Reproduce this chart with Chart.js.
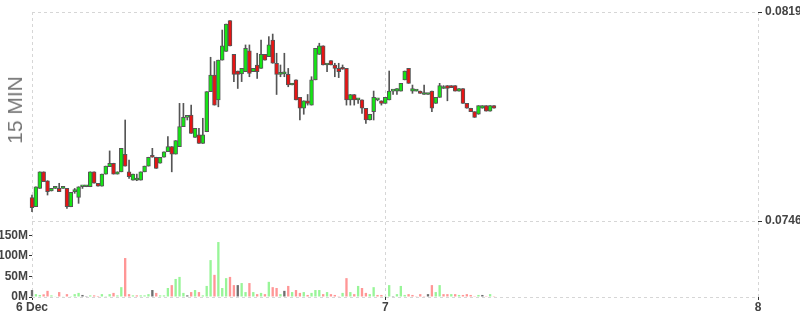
<!DOCTYPE html>
<html>
<head>
<meta charset="utf-8">
<script src="https://cdn.jsdelivr.net/npm/chart.js@4.4.0/dist/chart.umd.min.js"></script>
<style>
  html, body { margin: 0; padding: 0; background: #fff; }
  #wrap { position: relative; width: 800px; height: 315px; }
  #side-title {
    position: absolute; left: 15px; top: 110px;
    transform: translate(-50%, -50%) rotate(-90deg);
    font: 21px 'Liberation Sans', Arial, sans-serif; color: #777; white-space: nowrap;
  }
</style>
</head>
<body>
<div id="wrap">
  <canvas id="chart" width="800" height="315"></canvas>
  <div id="side-title">15 MIN</div>
</div>
<script>
// 15 minute candles, hours counted from 6 Dec 00:00
const startHour = 1.25;
const stepHour = 0.25;

const opens = [
  0.07542, 0.07510, 0.07574, 0.07632, 0.07601, 0.07565, 0.07574, 0.07574, 0.07574, 0.07574,
  0.07510, 0.07563, 0.07543, 0.07580, 0.07580, 0.07580, 0.07632, 0.07592, 0.07582, 0.07624,
  0.07650, 0.07662, 0.07624, 0.07632, 0.07693, 0.07632, 0.07603, 0.07603, 0.07603, 0.07632,
  0.07652, 0.07690, 0.07683, 0.07662, 0.07683, 0.07702, 0.07720, 0.07694, 0.07720, 0.07790,
  0.07822, 0.07830, 0.07752, 0.07761, 0.07731, 0.07772, 0.07912, 0.07970, 0.07883, 0.08022,
  0.08052, 0.08160, 0.08042, 0.07984, 0.07974, 0.07982, 0.08054, 0.07982, 0.08005, 0.07993,
  0.08042, 0.08034, 0.08092, 0.08011, 0.07972, 0.07974, 0.07972, 0.07935, 0.07953, 0.07892,
  0.07854, 0.07880, 0.07865, 0.07953, 0.08042, 0.08072, 0.08005, 0.08020, 0.08005, 0.07993,
  0.07993, 0.07993, 0.07883, 0.07902, 0.07883, 0.07883, 0.07854, 0.07813, 0.07842, 0.07883,
  0.07880, 0.07871, 0.07883, 0.07914, 0.07914, 0.07914, 0.07953, 0.07993, 0.07914, 0.07914,
  0.07914, 0.07902, 0.07902, 0.07914, 0.07871, 0.07892, 0.07923, 0.07933, 0.07933, 0.07933,
  0.07914, 0.07923, 0.07871, 0.07854, 0.07842, 0.07833, 0.07854, 0.07863, 0.07844, 0.07863
];
const highs = [
  0.07551, 0.07580, 0.07632, 0.07632, 0.07601, 0.07574, 0.07580, 0.07592, 0.07574, 0.07574,
  0.07560, 0.07574, 0.07580, 0.07580, 0.07580, 0.07632, 0.07632, 0.07592, 0.07624, 0.07652,
  0.07705, 0.07662, 0.07632, 0.07714, 0.07813, 0.07673, 0.07624, 0.07624, 0.07632, 0.07652,
  0.07683, 0.07714, 0.07683, 0.07683, 0.07702, 0.07755, 0.07720, 0.07741, 0.07871, 0.07871,
  0.07822, 0.07865, 0.07784, 0.07784, 0.07819, 0.07912, 0.08032, 0.08017, 0.08022, 0.08127,
  0.08148, 0.08160, 0.08042, 0.07984, 0.07993, 0.08075, 0.08075, 0.07993, 0.08046, 0.08092,
  0.08042, 0.08104, 0.08113, 0.08046, 0.08005, 0.08046, 0.07993, 0.07941, 0.07953, 0.07892,
  0.07880, 0.07902, 0.07964, 0.08063, 0.08081, 0.08072, 0.08008, 0.08020, 0.08011, 0.08011,
  0.08005, 0.07993, 0.07902, 0.07902, 0.07886, 0.07883, 0.07854, 0.07833, 0.07914, 0.07883,
  0.07880, 0.07892, 0.07984, 0.07914, 0.07923, 0.07941, 0.07984, 0.07993, 0.07935, 0.07914,
  0.07914, 0.07935, 0.07902, 0.07914, 0.07892, 0.07941, 0.07933, 0.07933, 0.07933, 0.07933,
  0.07923, 0.07923, 0.07871, 0.07854, 0.07842, 0.07863, 0.07863, 0.07863, 0.07863, 0.07863
];
const lows = [
  0.07493, 0.07510, 0.07574, 0.07598, 0.07551, 0.07565, 0.07574, 0.07563, 0.07574, 0.07504,
  0.07510, 0.07557, 0.07522, 0.07574, 0.07580, 0.07580, 0.07592, 0.07582, 0.07582, 0.07624,
  0.07650, 0.07624, 0.07624, 0.07632, 0.07652, 0.07609, 0.07603, 0.07601, 0.07603, 0.07632,
  0.07652, 0.07683, 0.07644, 0.07662, 0.07683, 0.07702, 0.07632, 0.07694, 0.07720, 0.07790,
  0.07813, 0.07766, 0.07752, 0.07731, 0.07731, 0.07772, 0.07912, 0.07865, 0.07859, 0.08022,
  0.08052, 0.08072, 0.07947, 0.07923, 0.07947, 0.07982, 0.07964, 0.07982, 0.07958, 0.07993,
  0.08022, 0.08034, 0.08011, 0.07902, 0.07964, 0.07964, 0.07929, 0.07935, 0.07883, 0.07813,
  0.07833, 0.07865, 0.07865, 0.07953, 0.08042, 0.08005, 0.07982, 0.08005, 0.07964, 0.07961,
  0.07990, 0.07865, 0.07865, 0.07865, 0.07871, 0.07836, 0.07801, 0.07813, 0.07813, 0.07880,
  0.07865, 0.07871, 0.07883, 0.07902, 0.07902, 0.07914, 0.07953, 0.07941, 0.07906, 0.07914,
  0.07906, 0.07902, 0.07902, 0.07842, 0.07871, 0.07892, 0.07923, 0.07880, 0.07926, 0.07914,
  0.07914, 0.07871, 0.07854, 0.07842, 0.07822, 0.07833, 0.07854, 0.07844, 0.07844, 0.07854
];
const closes = [
  0.07507, 0.07580, 0.07632, 0.07598, 0.07563, 0.07574, 0.07580, 0.07563, 0.07574, 0.07510,
  0.07560, 0.07563, 0.07580, 0.07580, 0.07580, 0.07632, 0.07592, 0.07582, 0.07624, 0.07652,
  0.07662, 0.07624, 0.07632, 0.07714, 0.07652, 0.07615, 0.07624, 0.07603, 0.07632, 0.07652,
  0.07683, 0.07683, 0.07644, 0.07683, 0.07702, 0.07720, 0.07694, 0.07741, 0.07790, 0.07822,
  0.07822, 0.07766, 0.07784, 0.07731, 0.07761, 0.07912, 0.07970, 0.07865, 0.08022, 0.08072,
  0.08148, 0.08072, 0.07972, 0.07972, 0.07993, 0.08063, 0.07976, 0.07993, 0.07982, 0.08042,
  0.08022, 0.08075, 0.08011, 0.07972, 0.07974, 0.07974, 0.07935, 0.07941, 0.07883, 0.07854,
  0.07880, 0.07871, 0.07953, 0.08063, 0.08072, 0.08005, 0.08008, 0.08005, 0.07993, 0.07982,
  0.07990, 0.07883, 0.07902, 0.07883, 0.07886, 0.07854, 0.07813, 0.07833, 0.07892, 0.07883,
  0.07871, 0.07892, 0.07914, 0.07914, 0.07923, 0.07941, 0.07984, 0.07941, 0.07923, 0.07914,
  0.07906, 0.07902, 0.07902, 0.07854, 0.07892, 0.07933, 0.07929, 0.07923, 0.07926, 0.07914,
  0.07923, 0.07871, 0.07854, 0.07842, 0.07822, 0.07863, 0.07863, 0.07844, 0.07863, 0.07854
];
// volume in millions
const volumes = [
  17, 7, 5, 6.5, 15, 4, 1.6, 12, 1.6, 7,
  2, 7, 10, 5, 2, 4, 4, 2.5, 7, 2,
  7, 10, 4, 24, 95, 7, 4, 4, 4, 4,
  7, 17, 10, 4, 4, 22, 29, 44, 49, 10,
  4, 12, 17, 12, 4, 27, 90, 54, 134, 22,
  46, 49, 29, 29, 34, 12, 34, 12, 7, 10,
  7, 37, 24, 22, 7, 15, 27, 12, 17, 10,
  12, 5, 10, 17, 17, 7, 12, 7, 5, 2,
  10, 46, 12, 7, 27, 22, 10, 7, 24, 5,
  5, 2, 29, 2, 7, 27, 5, 7, 5, 2,
  7, 2, 7, 29, 12, 29, 7, 7, 7, 7,
  5, 5, 7, 5, 2, 5, 5, 2, 7, 2
];

const xTickValues = [startHour, 24, 48];
const xTickLabels = ['6 Dec', '7', '8'];
const priceTicks = [0.0746, 0.0819];
const priceMin = 0.07195;
const priceMax = 0.0819;
const volTicks = [0, 50, 100, 150];
const volMax = 695;

const times = opens.map((_, i) => startHour + i * stepHour);

const UP = '#14e614';
const DOWN = '#e81414';
const EDGE = '#555';
const VOL_UP = '#98f598';
const VOL_DOWN = '#ff9696';
const VOL_FLAT = '#6e6e6e';
const GRID = '#d6d6d6';
const TEXT = '#444';

Chart.defaults.font.family = "'Liberation Sans', Arial, sans-serif";
const tickFont = { size: 12, weight: 'bold' };

function volColor(i) {
  if (i === 0 || closes[i] === closes[i - 1]) return VOL_FLAT;
  return closes[i] > closes[i - 1] ? VOL_UP : VOL_DOWN;
}

new Chart(document.getElementById('chart').getContext('2d'), {
  type: 'bar',
  data: {
    datasets: [
      {
        label: 'wick',
        data: times.map((t, i) => ({ x: t, y: [lows[i], highs[i]] })),
        yAxisID: 'y',
        backgroundColor: EDGE,
        barThickness: 1,
        minBarLength: 1,
        grouped: false,
        order: 3,
        clip: 3
      },
      {
        label: 'body',
        data: times.map((t, i) => ({ x: t, y: [opens[i], closes[i]] })),
        yAxisID: 'y',
        backgroundColor: ctx => closes[ctx.dataIndex] >= opens[ctx.dataIndex] ? UP : DOWN,
        borderColor: EDGE,
        borderWidth: 1,
        borderSkipped: false,
        minBarLength: 2,
        barPercentage: 1,
        categoryPercentage: 1,
        grouped: false,
        order: 2,
        clip: 3
      },
      {
        label: 'volume',
        data: times.map((t, i) => ({ x: t, y: volumes[i] })),
        yAxisID: 'yv',
        backgroundColor: ctx => volColor(ctx.dataIndex),
        barPercentage: 0.6,
        categoryPercentage: 1,
        grouped: false,
        order: 1,
        clip: 3
      }
    ]
  },
  options: {
    responsive: false,
    animation: false,
    layout: { padding: { top: 12, left: 0, right: 0, bottom: 0 } },
    plugins: { legend: { display: false }, tooltip: { enabled: false } },
    scales: {
      x: {
        type: 'linear',
        min: startHour,
        max: 48,
        offset: false,
        grid: { offset: false, color: GRID, tickColor: '#333', tickLength: 3 },
        border: { display: false, dash: [3, 3] },
        afterBuildTicks: s => { s.ticks = xTickValues.map(v => ({ value: v })); },
        afterFit: s => { s.height = 18; },
        ticks: {
          autoSkip: false, maxRotation: 0, padding: 0, color: TEXT, font: tickFont,
          callback: (v, i) => xTickLabels[i]
        }
      },
      y: {
        type: 'linear',
        position: 'right',
        min: priceMin,
        max: priceMax,
        grid: { color: GRID, tickColor: '#333', tickLength: 4 },
        border: { display: false, dash: [3, 3] },
        afterBuildTicks: s => { s.ticks = priceTicks.map(v => ({ value: v })); },
        afterFit: s => { s.width = 42; },
        ticks: { padding: 3, color: TEXT, font: tickFont, callback: v => v.toFixed(4) }
      },
      yv: {
        type: 'linear',
        position: 'left',
        min: 0,
        max: volMax,
        grid: {
          color: c => (c.tick && c.tick.value === 0) ? GRID : 'rgba(0,0,0,0)',
          tickColor: '#333',
          tickLength: 3
        },
        border: { display: false, dash: [3, 3] },
        afterBuildTicks: s => { s.ticks = volTicks.map(v => ({ value: v })); },
        afterFit: s => { s.width = 32; },
        ticks: { padding: 1, color: TEXT, font: tickFont, callback: v => v + 'M' }
      }
    }
  }
});
</script>
</body>
</html>
